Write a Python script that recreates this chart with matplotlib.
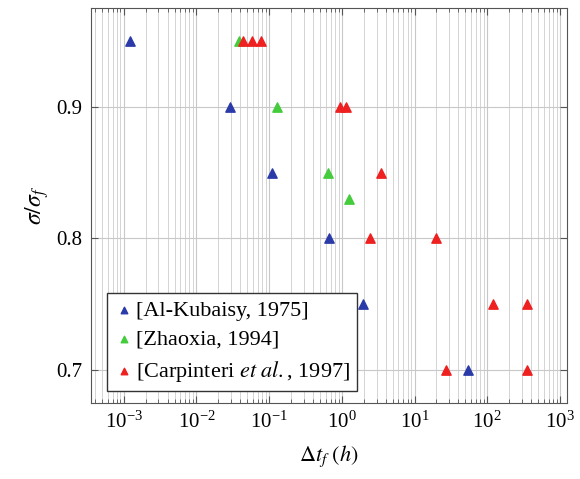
import matplotlib
matplotlib.use("Agg")
import matplotlib.pyplot as plt
from matplotlib.ticker import FixedLocator, NullFormatter

plt.rcParams['font.family'] = ['Liberation Serif', 'DejaVu Serif']
plt.rcParams['mathtext.fontset'] = 'stix'

# Al-Kubaisy, 1975
kub_t = [0.0012, 0.0285, 0.11, 0.66, 1.95, 55]
kub_s = [0.95, 0.90, 0.85, 0.80, 0.75, 0.70]
# Zhaoxia, 1994
zha_t = [0.039, 0.13, 0.65, 1.25]
zha_s = [0.95, 0.90, 0.85, 0.83]
# Carpinteri et al., 1997
car_t = [0.043, 0.058, 0.078, 0.93, 1.15, 3.5, 2.45, 20, 120, 355, 27, 355]
car_s = [0.95, 0.95, 0.95, 0.90, 0.90, 0.85, 0.80, 0.80, 0.75, 0.75, 0.70, 0.70]

decades = [1e-3, 1e-2, 1e-1, 1e0, 1e1, 1e2, 1e3]

fig = plt.figure(figsize=(5.8, 4.79), dpi=100)
ax = fig.add_axes([0.157, 0.159, 0.821, 0.824])

ax.scatter(kub_t, kub_s, marker='^', s=45, color='#2a3aa8', label='[Al-Kubaisy, 1975]', zorder=3)
ax.scatter(zha_t, zha_s, marker='^', s=45, color='#44cc3c', label='[Zhaoxia, 1994]', zorder=3)
ax.scatter(car_t, car_s, marker='^', s=45, color='#ee2020',
           label=r'[Carpinteri $\mathit{et\ al.}$, 1997]', zorder=3)

ax.set_xscale('log')
ax.set_xlim(10**-3.45, 10**3.1)
ax.set_ylim(0.675, 0.975)
ax.set_yticks([0.7, 0.8, 0.9])
ax.set_xticks(decades)
minors = [d * k for d in [1e-4] + decades for k in range(2, 10)]
minors = [m for m in minors if 10**-3.45 < m < 10**3.1]
ax.xaxis.set_minor_locator(FixedLocator(minors))
ax.xaxis.set_minor_formatter(NullFormatter())

ax.grid(True, which='major', color='#c8c8c8', linewidth=0.8)
ax.grid(True, which='minor', axis='x', color='#d4d4d4', linewidth=0.7)
ax.set_axisbelow(True)
ax.tick_params(which='both', direction='in', top=True, right=True, labelsize=15, pad=6)
ax.tick_params(which='major', length=5, color='#555555')
ax.tick_params(which='minor', length=3, color='#555555')
for sp in ax.spines.values():
    sp.set_color('#555555')

ax.set_xlabel(r'$\Delta t_f\ (h)$', fontsize=16, labelpad=8)
ax.set_ylabel(r'$\sigma/\sigma_f$', fontsize=17, labelpad=4)

leg = ax.legend(loc='lower left', bbox_to_anchor=(0.025, 0.02), fontsize=16, fancybox=False,
                edgecolor='#333333', framealpha=1, handletextpad=0.1, borderpad=0.3,
                labelspacing=0.4, handlelength=0.9, scatterpoints=1, markerscale=0.7,
                borderaxespad=0.2)
leg.get_frame().set_linewidth(1.0)

fig.savefig('out.png', dpi=100)
